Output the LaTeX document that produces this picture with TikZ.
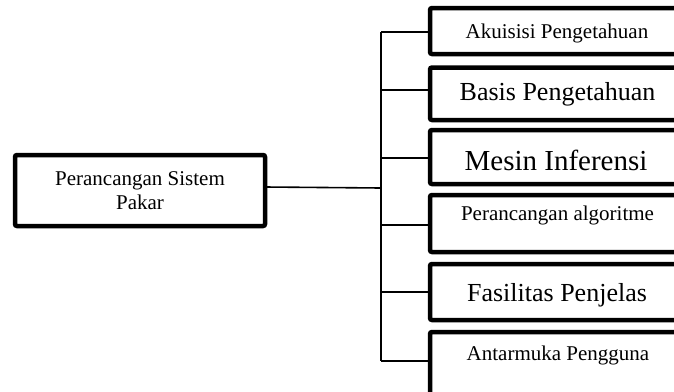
\documentclass[tikz,border=0pt]{standalone}
\usepackage{fontspec}
\setmainfont{Liberation Serif}
\begin{document}
\begin{tikzpicture}[x=1pt,y=-1pt,
  box/.style={draw=black,line width=4.5pt,rounded corners=2pt,rectangle,
    inner sep=0pt,outer sep=0pt,anchor=north west,minimum width=254pt},
  link/.style={draw=black,line width=1.6pt},
  lbl/.style={anchor=base,inner sep=0pt},
  fs/.style={font=\fontsize{21}{24.3}\selectfont},
  fm/.style={font=\fontsize{26}{30}\selectfont},
  fl/.style={font=\fontsize{29}{33}\selectfont}]
\useasboundingbox (0,0) rectangle (674,391);
\clip (0,0) rectangle (674,391);

% root box
\node[box,fs,align=center,minimum width=250pt,minimum height=71pt] (root) at (15,155)
  {Perancangan Sistem\\Pakar};

% right column boxes (they run past the right and bottom edges)
\node[box,minimum height=46pt]   (b1) at (430,8)   {};
\node[box,minimum height=52.5pt] (b2) at (430,67.5) {};
\node[box,minimum height=54pt]   (b3) at (430,130) {};
\node[box,minimum height=57pt]   (b4) at (430,195) {};
\node[box,minimum height=56pt]   (b5) at (430,264) {};
\node[box,minimum height=66pt]   (b6) at (430,332) {};

% box texts
\node[lbl,fs] (t1) at (557,38.3)  {Akuisisi Pengetahuan};
\node[lbl,fm] (t2) at (557.5,100) {Basis Pengetahuan};
\node[lbl,fl] (t3) at (556,170)   {Mesin Inferensi};
\node[lbl,fs] (t4) at (557.5,220) {Perancangan algoritme};
\node[lbl,fm] (t5) at (557,301.7) {Fasilitas Penjelas};
\node[lbl,fs] (t6) at (558,360)   {Antarmuka Pengguna};

% trunk and branch points
\coordinate (j1) at (381,32);
\coordinate (j2) at (381,90);
\coordinate (j3) at (381,158);
\coordinate (jr) at (381,188);
\coordinate (j4) at (381,225);
\coordinate (j5) at (381,292);
\coordinate (j6) at (381,361);

\draw[link] (j1) -- (j6);
\draw[link] ([yshift=3.5pt]root.east) -- (jr);
\draw[link] (j1) -- (j1 -| b1.west);
\draw[link] (j2) -- (j2 -| b2.west);
\draw[link] (j3) -- (j3 -| b3.west);
\draw[link] (j4) -- (j4 -| b4.west);
\draw[link] (j5) -- (j5 -| b5.west);
\draw[link] (j6) -- (j6 -| b6.west);
\end{tikzpicture}
\end{document}
